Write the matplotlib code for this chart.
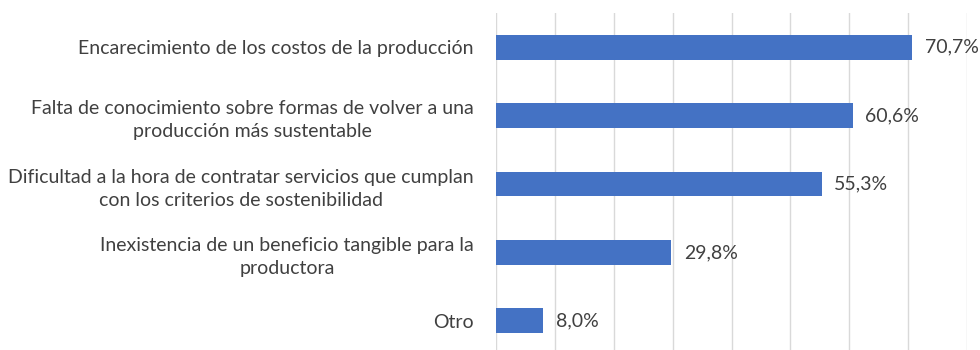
import matplotlib
matplotlib.use("Agg")
import matplotlib.pyplot as plt

categories = [
    "Encarecimiento de los costos de la producción",
    "Falta de conocimiento sobre formas de volver a una\nproducción más sustentable",
    "Dificultad a la hora de contratar servicios que cumplan\ncon los criterios de sostenibilidad",
    "Inexistencia de un beneficio tangible para la\nproductora",
    "Otro",
]
values = [70.7, 60.6, 55.3, 29.8, 8.0]
value_labels = ["70,7%", "60,6%", "55,3%", "29,8%", "8,0%"]

plt.rcParams["font.family"] = ["Lato", "DejaVu Sans"]
text_color = "#404040"

fig = plt.figure(figsize=(9.8, 3.5), dpi=100)
ax = fig.add_axes([496 / 980, -5 / 350, (967 - 496) / 980, (355 - 13) / 350])

y = list(range(len(categories)))
ax.barh(y, values, height=0.36, color="#4472C4", zorder=3)

ax.set_xlim(0, 80)
ax.set_ylim(len(categories) - 0.5, -0.5)
ax.set_xticks(range(0, 81, 10))
ax.xaxis.grid(True, color="#d9d9d9", linewidth=1.0, zorder=0)
ax.tick_params(axis="x", length=0, labelbottom=False)
ax.tick_params(axis="y", length=0, pad=16)
for s in ax.spines.values():
    s.set_visible(False)

ax.set_yticks(y)
ax.set_yticklabels(categories, fontsize=14, color=text_color, multialignment="center",
                   linespacing=1.45)

for yi, v, lab in zip(y, values, value_labels):
    ax.annotate(lab, (v, yi), xytext=(9, 0), textcoords="offset points",
                va="center", ha="left", fontsize=14, color=text_color,
                annotation_clip=False)

fig.savefig("out.png", dpi=100)
